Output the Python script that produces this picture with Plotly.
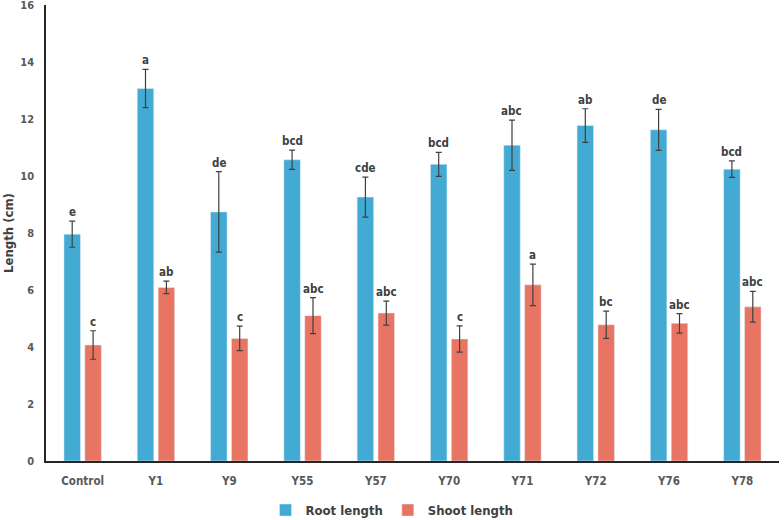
import plotly.graph_objects as go

categories = ["Control", "Y1", "Y9", "Y55", "Y57", "Y70", "Y71", "Y72", "Y76", "Y78"]
root_length = [7.96, 13.07, 8.74, 10.57, 9.26, 10.41, 11.08, 11.77, 11.62, 10.24]
root_err = [0.46, 0.67, 1.41, 0.34, 0.70, 0.42, 0.88, 0.59, 0.72, 0.29]
shoot_length = [4.07, 6.09, 4.30, 5.10, 5.19, 4.28, 6.18, 4.78, 4.83, 5.41]
shoot_err = [0.50, 0.22, 0.43, 0.63, 0.42, 0.46, 0.73, 0.48, 0.34, 0.54]
root_letters = ["e", "a", "de", "bcd", "cde", "bcd", "abc", "ab", "de", "bcd"]
shoot_letters = ["c", "ab", "c", "abc", "abc", "c", "a", "bc", "abc", "abc"]
y_ticks = [0, 2, 4, 6, 8, 10, 12, 14, 16]

FONT = "DejaVu Sans Condensed, Roboto, sans-serif"
BLUE = "#42AAD3"
RED = "#E87463"
ERR = "#404040"

fig = go.Figure()
fig.add_trace(go.Bar(
    name="Root length", x=categories, y=root_length, marker_color=BLUE,
    error_y=dict(type="data", array=root_err, color=ERR, thickness=1.2, width=3),
))
fig.add_trace(go.Bar(
    name="Shoot length", x=categories, y=shoot_length, marker_color=RED,
    error_y=dict(type="data", array=shoot_err, color=ERR, thickness=1.2, width=3),
))

for cat, v, e, t in zip(categories, root_length, root_err, root_letters):
    fig.add_annotation(x=cat, y=v + e, text="<b>%s</b>" % t, showarrow=False,
                       xshift=-10.5, yshift=0, yanchor="bottom",
                       font=dict(family=FONT, size=11.5, color="#404040"))
for cat, v, e, t in zip(categories, shoot_length, shoot_err, shoot_letters):
    fig.add_annotation(x=cat, y=v + e, text="<b>%s</b>" % t, showarrow=False,
                       xshift=10.5, yshift=0, yanchor="bottom",
                       font=dict(family=FONT, size=11.5, color="#404040"))

fig.update_layout(
    width=784, height=520,
    margin=dict(l=46, r=5, t=5, b=59),
    paper_bgcolor="white", plot_bgcolor="white",
    barmode="group", bargap=0.43, bargroupgap=0.21,
    font=dict(family=FONT, color="#595959"),
    legend=dict(orientation="h", xref="container", yref="container",
                x=0.5, xanchor="center", y=0.019, yanchor="middle",
                font=dict(family=FONT, size=13, color="#404040", weight="bold"),
                itemwidth=30, traceorder="normal"),
    xaxis=dict(showline=True, linecolor="#262626", linewidth=1.5, automargin=False,
               showgrid=False, ticks="", ticklabelstandoff=8,
               tickfont=dict(family=FONT, size=11.5, color="#595959", weight="bold")),
    yaxis=dict(range=[0, 16], tickvals=y_ticks, showline=True, linecolor="#262626",
               linewidth=1.5, showgrid=False, zeroline=False, ticks="", automargin=False,
               ticklabelstandoff=8, ticklabeloverflow="allow",
               tickfont=dict(family=FONT, size=11, color="#595959", weight="bold"),
               title=dict(text="<b>Length (cm)</b>", standoff=4,
                          font=dict(family=FONT, size=13, color="#404040"))),
)

fig.write_html("out.html", config={"displayModeBar": False},
               post_script="document.body.style.margin='0';")
